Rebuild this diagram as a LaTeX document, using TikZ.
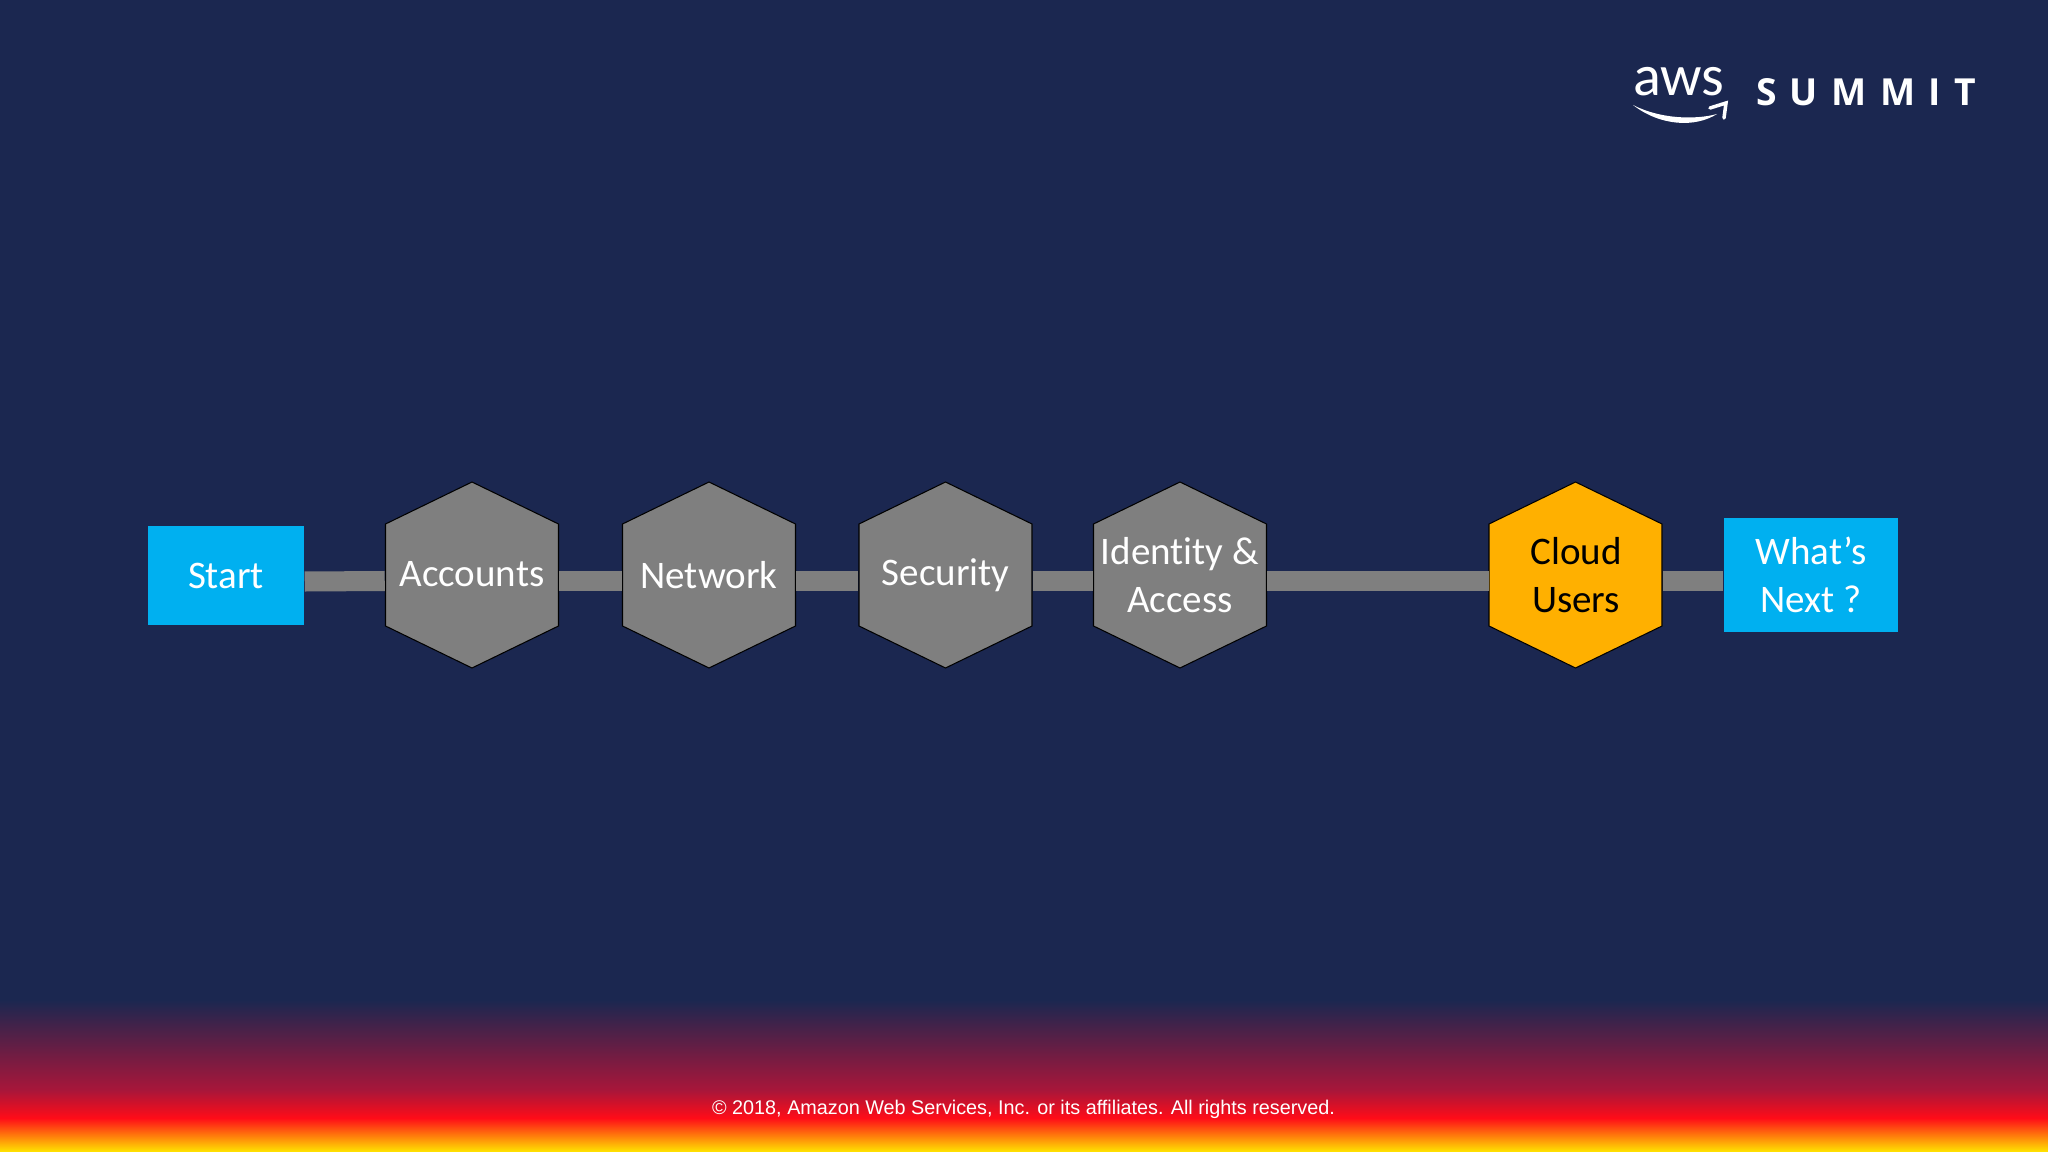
\documentclass[tikz,border=0pt]{standalone}
\usepackage{fontspec}
\setmainfont[Ligatures=NoCommon]{Carlito}
\newfontfamily\footfont{Liberation Sans}
\newfontfamily\summitfont[LetterSpace=36]{Open Sans}
\definecolor{slidenavy}{HTML}{1B2750}
\definecolor{stepgrey}{HTML}{7F7F7F}
\definecolor{stepblue}{HTML}{00B0F0}
\definecolor{steporange}{HTML}{FFB000}
\definecolor{footwine}{HTML}{A8163A}
\definecolor{footred}{HTML}{FF0C18}
\definecolor{footyellow}{HTML}{FFE600}
\tikzset{
endbox/.style={fill=stepblue,text=white,inner sep=0pt,align=center,font=\fontsize{11.1}{13.5}\selectfont},
hexbox/.style={minimum width=1.73cm,minimum height=1.86cm,inner sep=0pt,text=white,align=center,font=\fontsize{11.1}{13.5}\selectfont},
hexline/.style={draw=black,line width=0.3pt},
linkbar/.style={stepgrey,line width=0.2cm},
}
\begin{document}
\begin{tikzpicture}[x=0.01cm,y=-0.01cm]
\useasboundingbox(0,0)rectangle(2048,1152);
\fill[slidenavy](0,0)rectangle(2048,1152);
\shade[top color=slidenavy,bottom color=footwine](0,1000)rectangle(2048,1090);
\shade[top color=footwine,bottom color=footred](0,1090)rectangle(2048,1118);
\shade[top color=footred,bottom color=footyellow](0,1118)rectangle(2048,1152);
% hexagons behind the labels
\foreach \hexx/\hexfill in {472/stepgrey,709/stepgrey,945.5/stepgrey,1180/stepgrey,1575.5/steporange}{\draw[hexline,fill=\hexfill,shift={(\hexx,575)}](0,-93)--(86.5,-51)--(86.5,51)--(0,93)--(-86.5,51)--(-86.5,-51)--cycle;}
% steps
\node[endbox,minimum width=1.56cm,minimum height=0.99cm](start)at(226,575.5){Start};
\node[hexbox](accounts)at(472,575){\raisebox{0.5pt}{Accounts}};
\node[hexbox](network)at(709,575){Network};
\node[hexbox](security)at(945.5,575){\raisebox{-0.3pt}{Security}};
\node[hexbox](identity)at(1180,575){Identity \&\\Access};
\node[hexbox,text=black](cloud)at(1576,575){Cloud\\Users};
\node[endbox,minimum width=1.74cm,minimum height=1.14cm](whatsnext)at(1811,575){What’s\\Next ?};
% links between steps
\foreach \a/\b in {start/accounts,accounts/network,network/security,security/identity,identity/cloud,cloud/whatsnext}{\draw[linkbar]([yshift=-0.06cm]\a.east)--([yshift=-0.06cm]\b.west);}
% logo
\node[text=white,inner sep=0pt,font=\fontsize{16.5}{18}\selectfont](awsword)at(1679,82){aws};
\node[text=white,inner sep=0pt,font=\fontsize{10.6}{12}\summitfont\bfseries](summit)at(1866,92.5){SUMMIT};
\coordinate(smileleft)at(1633,105);
\coordinate(smileright)at(1717,114);
\fill[white](smileleft)..controls(1660,126)and(1695,128)..(smileright)..controls(1695,120)and(1660,119)..cycle;
\draw[white,line width=1pt,line cap=round](1710,108)--(1726,103)--(1724,118);
% footer
\node[text=white,inner sep=0pt,font=\fontsize{5.63}{7}\footfont](copyright)at(1023.5,1109.5){© 2018, Amazon Web Services, Inc. or its affiliates. All rights reserved.};
\end{tikzpicture}
\end{document}
